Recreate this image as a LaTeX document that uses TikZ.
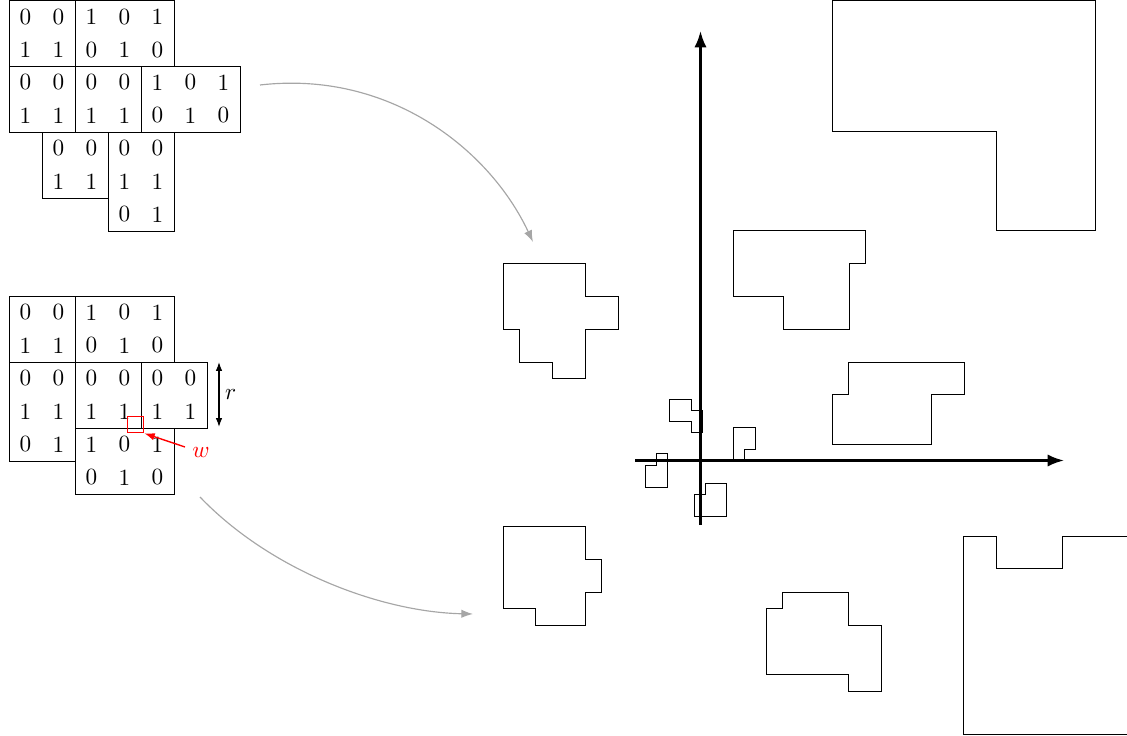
\documentclass[tikz,border=0pt]{standalone}
\usetikzlibrary{matrix,arrows.meta}
\begin{document}
\begin{tikzpicture}[x=0.4305pt,y=-0.4305pt,
  grid/.style={matrix of nodes, draw, line width=0.4pt, inner sep=0pt, outer sep=0pt, anchor=north west,
    nodes={minimum width=14.2065pt, minimum height=14.2065pt, inner sep=0pt, anchor=center},
    column sep=0pt, row sep=0pt},
  poly/.style={draw, line width=0.4pt},
  axis/.style={line width=1pt, -{Latex[length=7pt,width=5.2pt]}},
  flow/.style={draw=black!35, line width=0.5pt, -{Latex[length=5pt,width=3.6pt]}}]
\useasboundingbox (0,0) rectangle (1127,736);
\clip (0,0) rectangle (1127,736);
% top grid
\matrix (a1) [grid] at (9,0.5) {0 & 0\\ 1 & 1\\};
\matrix (a2) [grid] at (75,0.5) {1 & 0 & 1\\ 0 & 1 & 0\\};
\matrix (a3) [grid] at (9,66) {0 & 0\\ 1 & 1\\};
\matrix (a4) [grid] at (75,66) {0 & 0\\ 1 & 1\\};
\matrix (a5) [grid] at (141,66) {1 & 0 & 1\\ 0 & 1 & 0\\};
\matrix (a6) [grid] at (42,132) {0 & 0\\ 1 & 1\\};
\matrix (a7) [grid] at (108,132) {0 & 0\\ 1 & 1\\ 0 & 1\\};
% middle grid
\matrix (b1) [grid] at (9,296) {0 & 0\\ 1 & 1\\};
\matrix (b2) [grid] at (75,296) {1 & 0 & 1\\ 0 & 1 & 0\\};
\matrix (b3) [grid] at (9,362) {0 & 0\\ 1 & 1\\ 0 & 1\\};
\matrix (b4) [grid] at (75,362) {0 & 0\\ 1 & 1\\};
\matrix (b5) [grid] at (141,362) {0 & 0\\ 1 & 1\\};
\matrix (b6) [grid] at (75,428) {1 & 0 & 1\\ 0 & 1 & 0\\};
% r arrow
\coordinate (rtop) at (219,362);
\coordinate (rbot) at (219,427);
\draw[line width=0.6pt, {Latex[length=3.8pt,width=2.8pt]}-{Latex[length=3.8pt,width=2.8pt]}] (rtop) -- node[right=-1pt] {$r$} (rbot);
% window w
\node (wbox) [draw=red, line width=0.5pt, minimum size=7.1pt, inner sep=0pt] at (135.5,424.5) {};
\node (wlab) [text=red] at (201,453) {$w$};
\draw[red, line width=0.6pt, -{Latex[length=4.5pt,width=3.2pt]}] (185,447) -- (wbox.south east);
% flow arrows
\coordinate (s1) at (260,85);
\coordinate (t1) at (533,242);
\coordinate (s2) at (200,497);
\coordinate (t2) at (473,614);
\draw[flow] (s1) .. controls (390,70) and (490,150) .. (t1);
\draw[flow] (s2) .. controls (270,570) and (380,612) .. (t2);
% polygons
\draw[poly] (503,263) -- (585.5,263) -- (585.5,296) -- (618,296) -- (618,329) -- (585.5,329) -- (585.5,378) -- (552.5,378) -- (552.5,362) -- (519.5,362) -- (519.5,329) -- (503,329) -- cycle;
\draw[poly] (503,526.5) -- (585.5,526.5) -- (585.5,559) -- (601.5,559) -- (601.5,592) -- (585.5,592) -- (585.5,625) -- (535.5,625) -- (535.5,608.5) -- (503,608.5) -- cycle;
\draw[poly] (733.5,230) -- (865,230) -- (865,263.5) -- (849,263.5) -- (849,329) -- (783,329) -- (783,296) -- (733.5,296) -- cycle;
\draw[poly] (848.5,362) -- (964,362) -- (964,394.5) -- (931.5,394.5) -- (931.5,444) -- (832,444) -- (832,394.5) -- (848.5,394.5) -- cycle;
\draw[poly] (782.5,592.5) -- (848.5,592.5) -- (848.5,625) -- (881.5,625) -- (881.5,691) -- (848.5,691) -- (848.5,674.5) -- (766,674.5) -- (766,608.5) -- (782.5,608.5) -- cycle;
\draw[poly] (963.5,536) -- (996.5,536) -- (996.5,568.5) -- (1062.5,568.5) -- (1062.5,536) -- (1140,536) -- (1140,734) -- (963.5,734) -- cycle;
\draw[poly] (832,0.6) -- (1095.5,0.6) -- (1095.5,230) -- (996.5,230) -- (996.5,131.5) -- (832,131.5) -- cycle;
% small shapes near origin
\draw[poly] (669.5,399.5) -- (691,399.5) -- (691,410.5) -- (702.5,410.5) -- (702.5,432.5) -- (691,432.5) -- (691,421.5) -- (669.5,421.5) -- cycle;
\draw[poly] (733.5,427.5) -- (755.5,427.5) -- (755.5,449.5) -- (744.5,449.5) -- (744.5,460.5) -- (733.5,460.5) -- cycle;
\draw[poly] (656,453.5) -- (667,453.5) -- (667,487) -- (645,487) -- (645,465) -- (656,465) -- cycle;
\draw[poly] (705,483.5) -- (726.5,483.5) -- (726.5,516.5) -- (694,516.5) -- (694,494.5) -- (705,494.5) -- cycle;
% axes
\coordinate (xs) at (635,460.5);
\coordinate (xe) at (1064,460.5);
\coordinate (ys) at (700.5,525);
\coordinate (ye) at (700.5,31);
\draw[axis] (xs) -- (xe);
\draw[axis] (ys) -- (ye);
\end{tikzpicture}
\end{document}
